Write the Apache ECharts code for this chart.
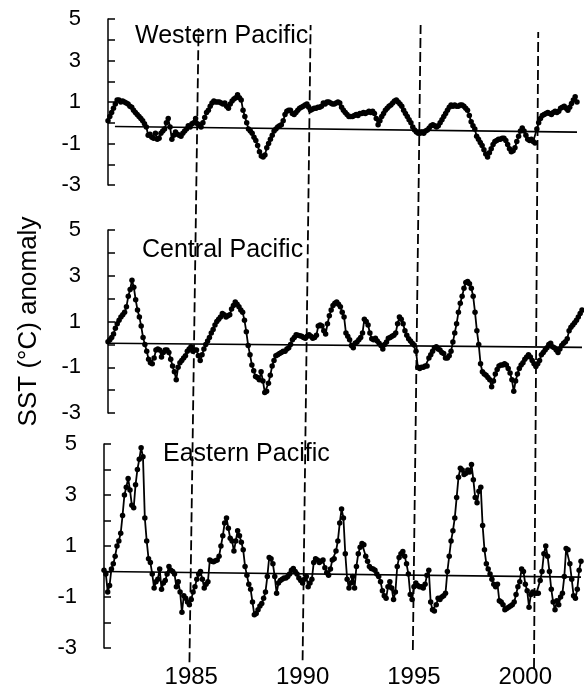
<!DOCTYPE html>
<html>
<head>
<meta charset="utf-8">
<script src="https://cdn.jsdelivr.net/npm/echarts@6/dist/echarts.min.js"></script>
<style>
  html, body { margin: 0; padding: 0; background: #fff; }
  #chart { width: 584px; height: 690px; }
</style>
</head>
<body>
<div id="chart"></div>
<script>
// 月度数据：第一个点是 1981 年 2 月
const startYear = 1981 + 1 / 12;
const titles = ['Western Pacific', 'Central Pacific', 'Eastern Pacific'];
const yearTicks = [1985, 1990, 1995, 2000];

const dataWestern = [
  0.1, 0.3, 0.5, 0.7, 0.9, 1.1, 1.1, 1.0, 1.05, 1.0,
  0.95, 0.9, 0.8, 0.75, 0.6, 0.5, 0.4, 0.3, 0.2, 0.1,
  -0.05, -0.2, -0.6, -0.55, -0.7, -0.75, -0.5, -0.8, -0.75, -0.5,
  -0.4, -0.3, 0.0, 0.2, -0.2, -0.8, -0.6, -0.45, -0.55, -0.6,
  -0.65, -0.5, -0.4, -0.3, -0.15, -0.2, -0.05, 0.0, 0.2, -0.05,
  -0.1, -0.2, 0.0, 0.25, 0.5, 0.6, 0.8, 0.95, 1.05, 1.0,
  1.0, 1.0, 0.95, 0.9, 0.95, 0.8, 0.7, 0.9, 1.05, 1.15,
  1.2, 1.35, 1.2, 1.1, 0.6, 0.3, 0.0, -0.3, -0.4, -0.5,
  -0.7, -0.85, -1.1, -1.4, -1.6, -1.65, -1.55, -1.2, -1.0, -0.8,
  -0.6, -0.4, -0.3, -0.2, -0.15, -0.1, 0.1, 0.4, 0.55, 0.6,
  0.6, 0.45, 0.4, 0.5, 0.6, 0.7, 0.75, 0.8, 0.85, 0.9,
  0.75, 0.6, 0.65, 0.7, 0.7, 0.75, 0.75, 0.8, 0.95, 0.9,
  1.0, 1.0, 0.95, 0.9, 0.9, 0.95, 1.0, 0.95, 0.75, 0.6,
  0.5, 0.4, 0.3, 0.3, 0.3, 0.35, 0.4, 0.35, 0.45, 0.45,
  0.5, 0.45, 0.5, 0.55, 0.5, 0.55, 0.45, 0.2, -0.1, 0.1,
  0.3, 0.45, 0.6, 0.7, 0.8, 0.85, 0.95, 1.05, 1.1, 1.0,
  0.9, 0.8, 0.6, 0.45, 0.3, 0.15, 0.0, -0.2, -0.35, -0.45,
  -0.5, -0.5, -0.45, -0.5, -0.4, -0.35, -0.25, -0.15, -0.1, -0.15,
  -0.2, -0.15, 0.0, 0.15, 0.3, 0.45, 0.6, 0.75, 0.85, 0.8,
  0.85, 0.8, 0.8, 0.85, 0.85, 0.8, 0.7, 0.6, 0.35, 0.05,
  -0.15, -0.3, -0.65, -0.8, -0.95, -1.1, -1.3, -1.5, -1.65, -1.45,
  -1.25, -1.05, -0.9, -0.85, -0.8, -0.8, -0.75, -0.75, -0.85, -1.05,
  -1.25, -1.4, -1.35, -1.2, -0.9, -0.65, -0.4, -0.25, -0.4, -0.6,
  -0.8, -0.85, -0.8, -0.9, -0.98, -0.3, 0.0, 0.2, 0.35, 0.4,
  0.45, 0.5, 0.45, 0.4, 0.5, 0.55, 0.5, 0.55, 0.7, 0.75,
  0.8, 0.7, 0.6, 0.75, 0.93, 1.1, 1.25, 1.0
];

const dataCentral = [
  0.12, 0.2, 0.3, 0.45, 0.7, 0.9, 1.05, 1.2, 1.3, 1.4,
  1.65, 2.1, 2.4, 2.8, 2.5, 1.95, 1.5, 1.2, 0.8, 0.3,
  0.0, -0.3, -0.65, -0.8, -0.85, -0.6, -0.25, -0.2, -0.25, -0.55,
  -0.35, -0.25, -0.25, -0.35, -0.65, -0.95, -1.2, -1.55, -1.0, -0.8,
  -0.7, -0.6, -0.5, -0.3, -0.2, -0.1, -0.3, -0.25, -0.25, -0.5,
  -0.7, -0.45, -0.2, 0.0, 0.15, 0.3, 0.5, 0.65, 0.85, 1.0,
  1.1, 1.2, 1.35, 1.3, 1.2, 1.25, 1.3, 1.55, 1.7, 1.85,
  1.75, 1.65, 1.5, 1.4, 1.05, 0.55, -0.05, -0.45, -0.9, -1.15,
  -1.4, -1.45, -1.55, -1.2, -1.6, -2.1, -2.05, -1.7, -1.35, -0.95,
  -0.7, -0.5, -0.45, -0.4, -0.35, -0.3, -0.3, -0.2, -0.15, 0.0,
  0.2, 0.3, 0.42, 0.4, 0.38, 0.35, 0.3, 0.27, 0.35, 0.42,
  0.35, 0.27, 0.3, 0.4, 0.8, 0.85, 0.8, 0.6, 0.45, 0.9,
  1.25, 1.5, 1.7, 1.8, 1.85, 1.75, 1.65, 1.4, 1.2, 0.5,
  0.35, 0.2, -0.05, -0.15, 0.05, 0.1, 0.2, 0.3, 0.5, 1.1,
  1.0, 0.85, 0.5, 0.25, 0.2, 0.27, 0.15, 0.05, -0.05, -0.2,
  0.0, 0.1, 0.27, 0.3, 0.35, 0.4, 0.5, 0.9, 1.2, 1.1,
  0.9, 0.6, 0.4, 0.25, 0.15, 0.05, -0.03, -0.3, -1.0, -1.05,
  -1.0, -1.0, -0.95, -0.95, -0.6, -0.45, -0.3, -0.15, -0.1, -0.2,
  -0.25, -0.35, -0.4, -0.6, -0.6, -0.5, -0.3, 0.1, 0.5, 0.9,
  1.4, 1.8, 2.1, 2.45, 2.7, 2.75, 2.65, 2.45, 2.1, 1.4,
  0.6, 0.0, -0.85, -1.2, -1.3, -1.35, -1.45, -1.55, -1.85, -1.6,
  -1.3, -1.1, -0.95, -0.9, -0.9, -0.85, -0.9, -1.05, -1.25, -1.55,
  -2.05, -1.6, -1.3, -1.05, -0.9, -0.8, -0.65, -0.55, -0.45, -0.55,
  -0.7, -0.85, -0.97, -0.85, -0.7, -0.45, -0.35, -0.25, -0.15, 0.0,
  0.05, -0.1, -0.15, -0.25, -0.35, -0.2, -0.05, 0.05, 0.12, 0.25,
  0.6, 0.75, 0.85, 0.95, 1.05, 1.2, 1.35, 1.5
];

const dataEastern = [
  0.05, -0.1, -0.8, -0.55, 0.1, 0.3, 0.6, 1.0, 1.2, 1.5,
  2.2, 3.0, 3.3, 3.65, 3.2, 2.6, 2.5, 3.4, 4.0, 4.4,
  4.85, 4.5, 2.1, 1.2, 0.5, 0.35, -0.1, -0.65, -0.4, -0.3,
  0.1, -0.7, -0.45, -0.35, -0.1, 0.2, 0.05, 0.0, -0.1, -0.6,
  -0.4, -0.8, -1.6, -0.95, -1.05, -1.2, -1.3, -1.1, -0.8, -0.6,
  -0.3, -0.1, 0.0, -0.3, -0.65, -0.5, -0.4, 0.45, 0.4, 0.38,
  0.42, 0.45, 0.6, 1.0, 1.4, 1.9, 2.1, 1.7, 1.3, 1.2,
  0.8, 1.2, 1.6, 1.4, 1.15, 0.85, 0.2, -0.15, -0.5, -0.7,
  -1.2, -1.7, -1.65, -1.5, -1.35, -1.25, -1.05, -0.8, -0.2, 0.55,
  0.5, 0.3, -0.2, -0.85, -0.45, -0.35, -0.3, -0.25, -0.25, -0.2,
  -0.1, 0.05, 0.12, 0.0, -0.1, -0.25, -0.35, -0.45, -0.3, -0.2,
  -0.6, -0.45, -0.3, 0.35, 0.5, 0.45, 0.35, 0.4, 0.45, 0.15,
  -0.05, -0.15, 0.1, 0.45, 0.5, 0.8, 1.2, 1.9, 2.45, 2.1,
  0.7, -0.3, -0.65, -0.45, -0.2, -0.65, 0.2, 0.7, 0.95, 1.1,
  1.05, 0.6, 0.4, 0.2, 0.12, 0.1, 0.05, -0.1, -0.2, -0.4,
  -0.75, -0.95, -1.05, -0.6, -0.4, -0.65, -1.1, -0.8, 0.2, 0.55,
  0.7, 0.78, 0.6, 0.3, -0.1, -0.9, -1.1, -0.6, -0.45, -0.55,
  -0.6, -0.6, -0.65, -0.5, -0.15, 0.05, -1.2, -1.5, -1.55, -1.3,
  -1.05, -1.1, -1.0, -0.95, -0.85, 0.0, 0.6, 1.2, 1.6, 2.1,
  2.9, 3.7, 4.05, 3.98, 3.8, 3.85, 3.98, 3.9, 4.2, 3.6,
  2.9, 2.7, 3.15, 3.3, 1.8, 0.85, 0.3, 0.1, -0.1, -0.3,
  -0.5, -0.6, -0.5, -1.15, -1.2, -1.3, -1.5, -1.45, -1.4, -1.35,
  -1.3, -1.2, -0.9, -0.6, -0.4, 0.1, 0.0, -0.5, -0.75, -1.4,
  -0.9, -0.8, -0.85, -0.85, -0.85, -0.35, 0.0, 0.7, 1.0, 0.6,
  0.0, -0.7, -1.2, -1.5, -1.15, -1.3, -1.0, -0.85, -0.2, 0.9,
  0.85, 0.3, -0.3, -0.95, -1.05, -0.7, 0.05, 0.4
];

// 趋势线：起点、终点的值
const trendWestern = [-0.18, -0.45];
const trendCentral = [0.05, -0.13];
const trendEastern = [0.0, -0.22];
const trendStartYears = [1981.4, startYear, startYear];

// 虚线：上端、下端对应的年份（原图的虚线略有倾斜）
const dashTopYears = [1985.33, 1990.36, 1995.3, 2000.58];
const dashBottomYears = [1984.92, 1990.0, 1994.95, 2000.39];
const dashTopLevel = [0.995, 1, 1, 0.989];
const dashBottomLevel = [0.009, 0.012, 0.028, 0];

(
  function (w, d) {
    const endYear = startYear + 257 / 12;
    const font = '"Liberation Sans", Arial, sans-serif';
    const seriesList = [dataWestern, dataCentral, dataEastern];
    const trendList = [trendWestern, trendCentral, trendEastern];

    // 三个面板的位置
    const panels = [
      {left: 108, top: 19, width: 469, height: 166},
      {left: 108, top: 230, width: 474, height: 183},
      {left: 104, top: 444, width: 477, height: 204},
    ];
    const titlePos = [
      {left: 135, top: 24},
      {left: 142, top: 238},
      {left: 163, top: 442},
    ];

    const chart = w.echarts.init(d.getElementById('chart'), null, {renderer: 'canvas'});
    chart.setOption(genOption());

    /* 方法：生成配置 */
    function genOption() {
      const grid = [];
      const xAxis = [];
      const yAxis = [];
      const series = [];
      const title = [];

      panels.forEach((p, i) => {
        grid.push({...p, outerBoundsMode: 'none'});
        xAxis.push(genXAxis(i, i === 2));
        yAxis.push(genYAxis(i));
        title.push({
          text: titles[i],
          left: titlePos[i].left,
          top: titlePos[i].top,
          padding: 0,
          textStyle: {fontSize: 25, fontWeight: 'normal', color: '#000', fontFamily: font}
        });
        series.push({
          type: 'line',
          xAxisIndex: i,
          yAxisIndex: i,
          data: seriesList[i].map((v, k) => [startYear + k / 12, v]),
          symbol: 'circle',
          symbolSize: 5.5,
          showSymbol: true,
          showAllSymbol: true,
          itemStyle: {color: '#000'},
          lineStyle: {color: '#000', width: 1.8},
          z: 3
        });
        series.push({
          type: 'line',
          xAxisIndex: i,
          yAxisIndex: i,
          data: [[trendStartYears[i], trendList[i][0]], [endYear, trendList[i][1]]],
          symbol: 'none',
          lineStyle: {color: '#000', width: 1.7},
          z: 2
        });
      });

      // 虚线用的覆盖层
      grid.push({left: 104, width: 477, top: 25, height: 643, outerBoundsMode: 'none'});
      xAxis.push({type: 'value', gridIndex: 3, min: startYear, max: endYear, show: false});
      yAxis.push({type: 'value', gridIndex: 3, min: 0, max: 1, show: false});
      dashTopYears.forEach((top, i) => {
        series.push({
          type: 'line',
          xAxisIndex: 3,
          yAxisIndex: 3,
          data: [[dashBottomYears[i], dashBottomLevel[i]], [top, dashTopLevel[i]]],
          symbol: 'none',
          silent: true,
          lineStyle: {color: '#000', width: 1.8, type: [10, 4]},
          z: 1
        });
      });

      return {
        animation: false,
        backgroundColor: '#fff',
        textStyle: {fontFamily: font, color: '#000'},
        title, grid, xAxis, yAxis, series
      };
    }

    /* 方法：x 轴 */
    function genXAxis(i, showLabel) {
      return {
        type: 'value',
        gridIndex: i,
        min: startYear,
        max: endYear,
        show: showLabel,
        axisLine: {show: false},
        axisTick: {show: false},
        splitLine: {show: false},
        axisLabel: {
          show: showLabel,
          customValues: yearTicks,
          formatter: v => String(v),
          fontSize: 24,
          color: '#000',
          margin: 17,
          fontFamily: font
        }
      };
    }

    /* 方法：y 轴 */
    function genYAxis(i) {
      const axis = {
        type: 'value',
        gridIndex: i,
        min: -3,
        max: 5,
        interval: 1,
        axisLine: {show: true, onZero: false, lineStyle: {color: '#000', width: 1.5}},
        axisTick: {show: true, inside: true, length: 7, lineStyle: {color: '#000', width: 1.5}},
        splitLine: {show: false},
        axisLabel: {
          formatter: v => (Math.abs(v) % 2 === 1 ? String(v) : ''),
          fontSize: 22,
          color: '#000',
          margin: 27,
          fontFamily: font
        }
      };
      if (i === 1) {
        Object.assign(axis, {
          name: 'SST (°C) anomaly',
          nameLocation: 'middle',
          nameGap: 66,
          nameTextStyle: {fontSize: 26, color: '#000', fontFamily: font}
        });
      }
      return axis;
    }
  }
)(window, document);
</script>
</body>
</html>
